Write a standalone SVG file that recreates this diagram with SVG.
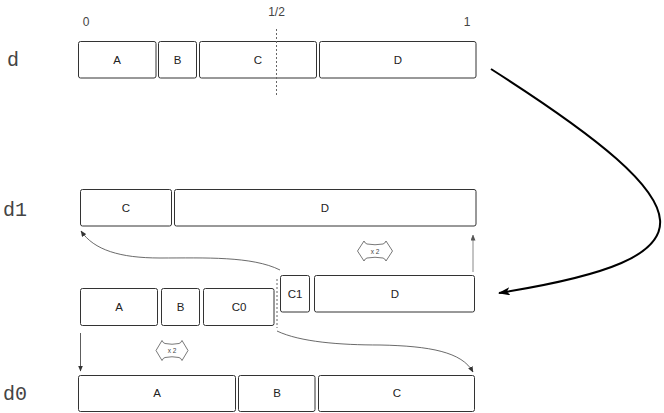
<svg xmlns="http://www.w3.org/2000/svg" width="664" height="413" viewBox="0 0 664 413">
<style>
.box{fill:#fff;stroke:#333;stroke-width:1}
.lbl{font-family:"Liberation Sans",Arial,sans-serif;font-size:11.5px;fill:#222;text-anchor:middle}
.mono{font-family:"Liberation Mono","Courier New",monospace;font-size:20px;fill:#444}
.tick{font-family:"Liberation Sans",Arial,sans-serif;font-size:12px;fill:#444;text-anchor:middle}
.dash{stroke:#666;stroke-width:1;stroke-dasharray:2,2;fill:none}
.thin{fill:none;stroke:#444;stroke-width:0.8}
.icon{fill:#fff;stroke:#555;stroke-width:0.8}
.itx{font-family:"Liberation Sans",Arial,sans-serif;font-size:6.5px;fill:#444;text-anchor:middle}
</style>
<defs>
<marker id="big" markerWidth="12" markerHeight="8" refX="11" refY="4" orient="auto" markerUnits="userSpaceOnUse">
<path d="M0,0 L12,4 L0,8 L3,4 Z" fill="#000"/>
</marker>
<marker id="sm" markerWidth="6" markerHeight="5" refX="5.5" refY="2.5" orient="auto" markerUnits="userSpaceOnUse">
<path d="M0,0 L6,2.5 L0,5 Z" fill="#333"/>
</marker>
<marker id="smg" markerWidth="6" markerHeight="5" refX="5.5" refY="2.5" orient="auto" markerUnits="userSpaceOnUse">
<path d="M0,0 L6,2.5 L0,5 Z" fill="#555"/>
</marker>
</defs>

<text class="mono" x="7" y="66">d</text>
<text class="mono" x="3" y="216">d1</text>
<text class="mono" x="3" y="400">d0</text>

<text class="tick" x="86" y="26">0</text>
<text class="tick" x="276.5" y="16">1/2</text>
<text class="tick" x="467" y="26">1</text>

<g id="d-A"><rect class="box" x="78.5" y="41.5" width="77.5" height="36.5" rx="2"/><text class="lbl" x="117" y="64">A</text></g>
<g id="d-B"><rect class="box" x="158.5" y="41.5" width="38" height="36.5" rx="2"/><text class="lbl" x="177.5" y="64">B</text></g>
<g id="d-C"><rect class="box" x="199.5" y="41.5" width="117" height="36.5" rx="2"/><text class="lbl" x="258" y="64">C</text></g>
<g id="d-D"><rect class="box" x="319.5" y="41.5" width="156.5" height="36.5" rx="2"/><text class="lbl" x="398" y="64">D</text></g>
<line class="dash" x1="276.5" y1="29" x2="276.5" y2="96"/>

<g id="d1-C"><rect class="box" x="80.5" y="189.5" width="91" height="36.5" rx="2"/><text class="lbl" x="126" y="212">C</text></g>
<g id="d1-D"><rect class="box" x="174.5" y="189.5" width="301.5" height="36.5" rx="2"/><text class="lbl" x="325" y="212">D</text></g>

<g id="m-A"><rect class="box" x="80.5" y="288.5" width="77" height="37" rx="2"/><text class="lbl" x="119" y="311">A</text></g>
<g id="m-B"><rect class="box" x="161.5" y="288.5" width="38" height="37" rx="2"/><text class="lbl" x="180.5" y="311">B</text></g>
<g id="m-C0"><rect class="box" x="203.5" y="288.5" width="70.5" height="37" rx="2"/><text class="lbl" x="239" y="311">C0</text></g>
<line class="dash" x1="277" y1="279" x2="277" y2="328"/>
<g id="m-C1"><rect class="box" x="280.5" y="275.5" width="29" height="36.5" rx="2"/><text class="lbl" x="295" y="298">C1</text></g>
<g id="m-D"><rect class="box" x="314.5" y="275.5" width="160" height="36.5" rx="2"/><text class="lbl" x="395" y="298">D</text></g>

<g id="d0-A"><rect class="box" x="78.5" y="375.5" width="157" height="36" rx="2"/><text class="lbl" x="157" y="397">A</text></g>
<g id="d0-B"><rect class="box" x="238.5" y="375.5" width="76.5" height="36" rx="2"/><text class="lbl" x="277" y="397">B</text></g>
<g id="d0-C"><rect class="box" x="318.5" y="375.5" width="156" height="36" rx="2"/><text class="lbl" x="397" y="397">C</text></g>

<g id="x2-top">
<path class="icon" d="M357.5,251 L364,241 Q365,243.5 367,244 Q375,245.5 383,244 Q385,243.5 386,241 L392.5,251 L386,261 Q385,258.5 383,258 Q375,256.5 367,258 Q365,258.5 364,261 Z"/>
<text class="itx" x="375" y="253.5">x 2</text>
</g>
<g id="x2-bottom">
<path class="icon" d="M156,350.5 L162,340.5 Q163,343 165,343.5 Q172,345 179,343.5 Q181,343 182,340.5 L188,350.5 L182,360.5 Q181,358 179,357.5 Q172,356 165,357.5 Q163,358 162,360.5 Z"/>
<text class="itx" x="172" y="353">x 2</text>
</g>

<g id="connectors">
<path d="M491,69 C711.8,209.8 718.5,258 499,293" fill="none" stroke="#000" stroke-width="2" marker-end="url(#big)"/>
<path class="thin" d="M280,270 C252,256 205,258 160,258 C120,258 94,250 81,231" marker-end="url(#sm)"/>
<path class="thin" d="M277,331 C300,342 340,345 380,345 C430,346 462,352 473,372" marker-end="url(#sm)"/>
<line x1="473" y1="272" x2="473" y2="235" stroke="#888" stroke-width="1" marker-end="url(#smg)"/>
<line x1="80.5" y1="333" x2="80.5" y2="371" stroke="#333" stroke-width="0.8" marker-end="url(#sm)"/>
</g>
</svg>
